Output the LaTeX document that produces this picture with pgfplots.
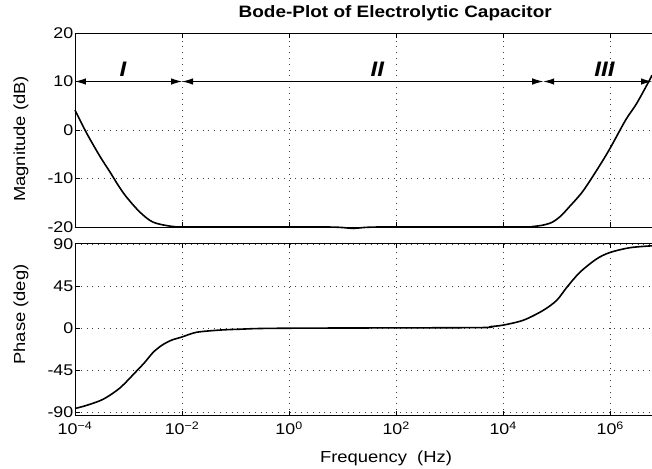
\documentclass[border=0pt]{standalone}
\usepackage{fontspec}
\setmainfont{Liberation Sans}[FakeStretch=1.15]
\usepackage{pgfplots}
\pgfplotsset{compat=1.18}
\usetikzlibrary{arrows.meta}

\pgfplotsset{
  /pgfplots/bodeax/.style={
    scale only axis, width=577pt,
    xmin=1e-4, xmax=6.03e6,
    xtick={1e-4,1e-2,1,1e2,1e4,1e6},
    axis y line*=left, tick align=inside,
    major tick length=5pt,
    axis line style={line width=0.9pt},
    every tick/.style={black, line width=0.9pt},
    grid=major,
    major grid style={black!75, line width=0.7pt, dash pattern=on 0.8pt off 5pt},
    /pgf/number format/assume math mode=true,
    tick label style={font=\fontsize{15.5}{15.5}\selectfont},
    yticklabel style={inner sep=1.5pt},
    xticklabel style={yshift=-3pt},
    label style={font=\fontsize{16}{16}\selectfont},
    clip=false,
  },
}
\tikzset{
  bodecurve/.style={black, line width=1.6pt, smooth, tension=0.5},
  bodespan/.style={black, line width=0.9pt, {Latex[length=11pt,width=6.5pt]}-{Latex[length=11pt,width=6.5pt]}},
  roman/.style={font=\fontsize{21}{21}\selectfont\bfseries\itshape},
}

\begin{document}
\begin{tikzpicture}
% magnitude
\begin{semilogxaxis}[bodeax,
  at={(0,0)}, anchor=south west, height=194pt,
  ymin=-20, ymax=20, ytick={-20,-10,0,10,20},
  xticklabels={},
  ylabel={Magnitude (dB)},
  ylabel style={at={(axis description cs:-0.0936,0.454)}, anchor=center},
  title={\bfseries Bode-Plot of Electrolytic Capacitor},
  title style={at={(axis description cs:0.555,1)}, anchor=base, yshift=10pt,
    font=\fontsize{16.5}{16.5}\selectfont},
]
\addplot[bodecurve, no markers] coordinates {
  (1e-4,4.1) (1.66e-4,-0.7) (2.95e-4,-5.5) (4.47e-4,-8.6)
  (6.5e-4,-11.5) (9.12e-4,-13.8) (1.62e-3,-16.9) (2.88e-3,-19.0) (6.76e-3,-19.9)
  (1.58e-2,-20) (5.0,-20) (15.8,-20.3) (50,-20) (2.0e4,-20)
  (3.55e4,-19.9) (5.6e4,-19.6) (8.3e4,-19.0) (1.2e5,-17.7) (1.7e5,-15.9)
  (3.0e5,-12.8) (5.37e5,-8.6) (9.55e5,-4.1) (1.95e6,2.1) (3.09e6,5.4)
  (5.25e6,10.0) (6.03e6,11.3)
};
\addplot[bodespan, no markers] coordinates {(1e-4,10) (1e-2,10)};
\addplot[bodespan, no markers] coordinates {(1e-2,10) (5.6e4,10)};
\addplot[bodespan, no markers] coordinates {(5.6e4,10) (6.03e6,10)};
\node[roman] at (axis cs:7.9e-4,12.6) {I};
\node[roman] at (axis cs:44.7,12.6) {II};
\node[roman] at (axis cs:7.8e5,12.6) {III};
\end{semilogxaxis}
% phase
\begin{semilogxaxis}[bodeax,
  at={(0,-188.5pt)}, anchor=south west, height=172.5pt,
  ymin=-93.5, ymax=91, ytick={-90,-45,0,45,90},
  xticklabels={10\textsuperscript{−4},10\textsuperscript{−2},10\textsuperscript{0},10\textsuperscript{2},10\textsuperscript{4},10\textsuperscript{6}},
  ylabel={Phase (deg)},
  ylabel style={at={(axis description cs:-0.0936,0.585)}, anchor=center},
  xlabel={Frequency~~(Hz)},
  xlabel style={at={(axis description cs:0.539,-0.246)}, anchor=center},
]
\addplot[bodecurve, no markers] coordinates {
  (1e-4,-86) (1.66e-4,-82.6) (3.39e-4,-76) (6.92e-4,-64) (1.41e-3,-46)
  (2.0e-3,-36.8) (2.88e-3,-26) (4.17e-3,-18.5) (6.3e-3,-13) (1e-2,-9.5)
  (1.86e-2,-4.5) (5.13e-2,-2.1)
  (0.12,-1.2) (0.316,-0.4) (3.16,0) (3.16e3,0.5) (5.6e3,1.5) (1e4,3.2)
  (2.4e4,8.5) (5.6e4,19) (1e5,29.7) (1.55e5,43.7) (2.7e5,59.6)
  (5.5e5,73.8) (9.8e5,80.8) (2.34e6,86) (6.03e6,88)
};
\end{semilogxaxis}
\pgfresetboundingbox
\path[use as bounding box] (-75pt,-241pt) rectangle (577pt,227pt);
\end{tikzpicture}
\end{document}
